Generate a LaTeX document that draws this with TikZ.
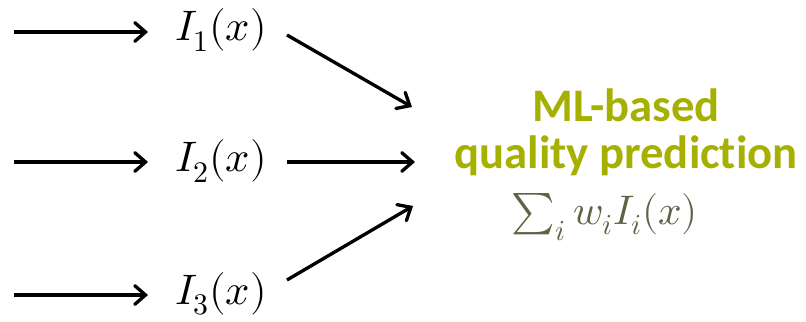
\documentclass[tikz,border=0pt]{standalone}
\usepackage{fontspec}
\usepackage{unicode-math}
\setmathfont{Latin Modern Math}
\setsansfont{Carlito}[Ligatures=NoCommon]
\usetikzlibrary{arrows.meta}
\definecolor{mlgreen}{RGB}{166,176,0}
\definecolor{sumgray}{RGB}{95,99,70}
\begin{document}
\begin{tikzpicture}[x=0.75pt,y=-0.75pt,
  arr/.style={line width=2.5pt,-{Straight Barb[length=8pt,width=14pt,line cap=round]}},
  lbl/.style={inner sep=0pt,font=\fontsize{32}{36}\selectfont},
  ml/.style={inner sep=0pt,align=center,text=mlgreen,font=\sffamily\bfseries\fontsize{35}{35}\selectfont}]
\useasboundingbox (0,0) rectangle (806,321);
\node[lbl] (i1) at (221,30) {$I_1(x)$};
\node[lbl] (i2) at (221,161) {$I_2(x)$};
\node[lbl] (i3) at (221,294) {$I_3(x)$};
\coordinate (s1) at (14,32);
\coordinate (s2) at (14,162);
\coordinate (s3) at (14,295);
\coordinate (e1) at (148,32);
\coordinate (e2) at (148,162);
\coordinate (e3) at (148,295);
\node[ml] (ml) at (626,132) {ML-based\\quality prediction};
\node[lbl,text=sumgray,font=\fontsize{31}{36}\selectfont] (sum) at (605,217) {$\textstyle\sum_i w_i I_i(x)$};
\coordinate (t1) at (412,107);
\coordinate (t2) at (415,162);
\coordinate (t3) at (413,206);
\draw[arr] (s1) -- (e1);
\draw[arr] (s2) -- (e2);
\draw[arr] (s3) -- (e3);
\draw[arr] (287,35) -- (t1);
\draw[arr] (287,162) -- (t2);
\draw[arr] (287,280) -- (t3);
\end{tikzpicture}
\end{document}
